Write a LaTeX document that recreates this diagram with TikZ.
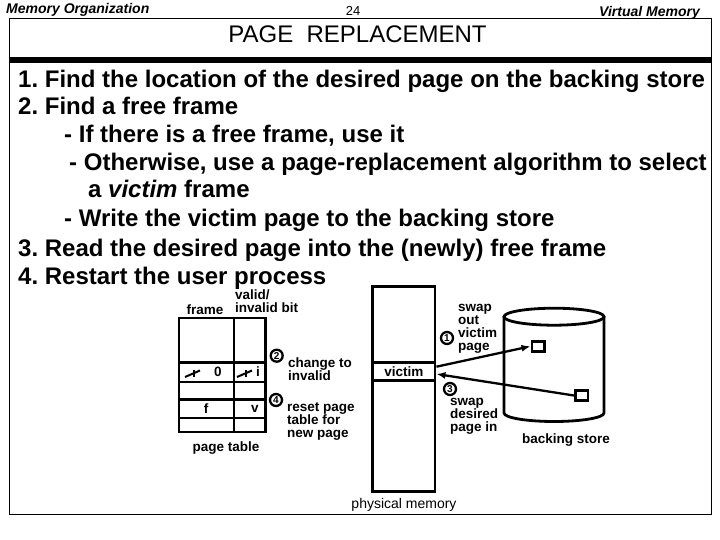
\documentclass[tikz,border=0pt]{standalone}
\usepackage{fontspec}
\setmainfont{Liberation Sans}
\usetikzlibrary{arrows.meta, positioning}
\frenchspacing

\begin{document}
\begin{tikzpicture}[x=1pt, y=-1pt,
        hdr/.style={font=\fontsize{14}{16}\selectfont\bfseries\itshape, inner sep=0pt},
        body/.style={font=\fontsize{24}{28}\selectfont\bfseries, inner sep=0pt, anchor=base west},
        lbl/.style={font=\fontsize{13.5}{13}\selectfont\bfseries, align=left, inner sep=0pt},
        tbl/.style={line width=2.8pt},
        box/.style={rectangle, draw, line width=2.8pt, inner sep=0pt},
        num/.style={circle, draw, line width=2.3pt, inner sep=0pt, minimum size=12pt, font=\fontsize{10}{10}\selectfont\bfseries},
        blk/.style={rectangle, draw, line width=2.5pt, minimum width=12.5pt, minimum height=10pt, inner sep=0pt},
        arrow/.style={-{Latex[length=9pt, width=7pt]}, line width=2.3pt},
        strike/.style={line width=2pt}
    ]
        \useasboundingbox (0,0) rectangle (720,540);

        % header and frame
        \node[hdr, anchor=base west] (lefthead) at (6,13.3) {Memory Organization};
        \node[font=\fontsize{13}{15}\selectfont, inner sep=0pt, anchor=base] (pageno) at (353,16) {24};
        \node[hdr, anchor=base east] (righthead) at (700,16.7) {Virtual Memory};
        \draw[line width=1pt] (9,18.3) rectangle (711,514);
        \draw[line width=6pt] (9,60.3) -- (711,60.3);
        \node[font=\fontsize{24}{28}\selectfont, inner sep=0pt] (title) at (357.5,34) {PAGE\ \ REPLACEMENT};

        % steps
        \node[body] (s1) at (18,88) {1. Find the location of the desired page on the backing store};
        \node[body] (s2) at (18,115) {2. Find a free frame};
        \node[body] (s2a) at (64,143) {- If there is a free frame, use it};
        \node[body] (s2b) at (69,171) {- Otherwise, use a page-replacement algorithm to select};
        \node[body] (s2c) at (88,198) {a \textit{victim} frame};
        \node[body] (s2d) at (64,226) {- Write the victim page to the backing store};
        \node[body] (s3) at (18,256) {3. Read the desired page into the (newly) free frame};
        \node[body] (s4) at (18,284) {4. Restart the user process};

        % page table
        \draw[tbl] (179,318) rectangle (265.7,432);
        \draw[tbl] (234,318) -- (234,432);
        \foreach \y in {362.3,382,399.3,418}
            \draw[tbl] (179,\y) -- (265.7,\y);
        \node[lbl, anchor=base] (framehd) at (205,314) {frame};
        \node[lbl, anchor=north west] (validhd) at (235,290) {valid/\\invalid bit};
        \node[lbl] (old0) at (218,372) {0};
        \node[lbl] (oldi) at (258,372) {i};
        \node[lbl] (newf) at (206,409) {f};
        \node[lbl] (newv) at (255,409) {v};
        \draw[strike] (185,377) -- (200,370.5);
        \draw[strike] (194,370) -- (194,376.5);
        \draw[strike] (237,377) -- (252,370.5);
        \draw[strike] (246,370) -- (246,376.5);
        \node[lbl] (ptcap) at (226,448) {page table};

        \node[num] (n2) at (276.7,355.7) {2};
        \node[lbl, anchor=north west] (chg) at (288,358) {change to\\invalid};
        \node[num] (n4) at (276,400) {4};
        \node[lbl, anchor=north west] (reset) at (287,402) {reset page\\table for\\new page};

        % physical memory
        \node[box, minimum width=62.3pt, minimum height=205pt] (mem) at (403.9,388.8) {};
        \node[box, minimum width=62.3pt, minimum height=18.4pt, font=\fontsize{13.5}{13}\selectfont\bfseries] (victim) at (403.9,371.5) {victim};
        \node[font=\fontsize{14}{16}\selectfont, inner sep=0pt] (pmem) at (404,505) {physical memory};

        % backing store
        \draw[tbl] (554,316.7) ellipse [x radius=50pt, y radius=8.5pt];
        \draw[tbl] (504,316.7) -- (504,413) arc[start angle=180, end angle=360, x radius=50pt, y radius=8.5pt] -- (604,316.7);
        \node[blk] (blk1) at (538,346.3) {};
        \node[blk] (blk2) at (581.5,395.5) {};
        \node[lbl] (bstore) at (566,440) {backing store};

        \node[num] (n1) at (447,338) {1};
        \node[lbl, anchor=north west] (swapout) at (458,304) {swap\\out\\victim\\page};
        \node[num] (n3) at (450,389) {3};
        \node[lbl, anchor=north west] (swapin) at (450,398) {swap\\desired\\page in};

        \draw[arrow] ([yshift=4.8pt]victim.east) -- (blk1.west);
        \draw[arrow] (blk2.west) -- ([yshift=-2.5pt]victim.east);
    \end{tikzpicture}
\end{document}
